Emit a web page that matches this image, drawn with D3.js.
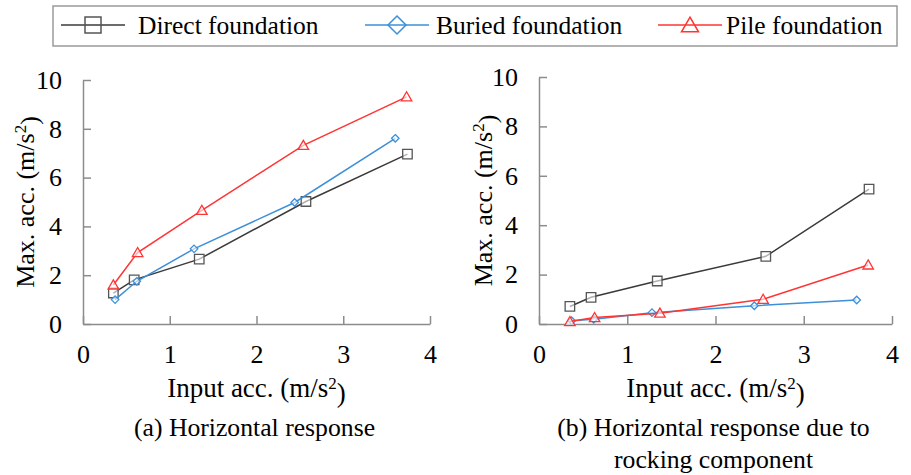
<!DOCTYPE html>
<html>
<head>
<meta charset="utf-8">
<script src="https://cdn.jsdelivr.net/npm/d3@7"></script>
<style>
  html, body { margin: 0; padding: 0; background: #fff; }
  svg { display: block; font-family: "Liberation Serif", "Times New Roman", serif; }
</style>
</head>
<body>
<svg id="chart" width="911" height="475"></svg>
<script>
// Series names and styling keys
const seriesNames = ["Direct foundation", "Buried foundation", "Pile foundation"];
const seriesKeys = ["direct", "buried", "pile"];

// Input accelerations (m/s^2) for each foundation type
const inputDirect = [0.35, 0.59, 1.34, 2.57, 3.74];
const inputBuried = [0.37, 0.62, 1.28, 2.44, 3.60];
const inputPile   = [0.35, 0.63, 1.37, 2.54, 3.73];

// (a) Horizontal response: max acceleration (m/s^2)
const horizDirect = [1.27, 1.81, 2.66, 5.02, 6.96];
const horizBuried = [1.00, 1.75, 3.08, 4.98, 7.61];
const horizPile   = [1.60, 2.93, 4.66, 7.32, 9.31];

// (b) Horizontal response due to rocking component (m/s^2)
const rockDirect = [0.71, 1.08, 1.74, 2.74, 5.46];
const rockBuried = [0.13, 0.19, 0.46, 0.74, 0.97];
const rockPile   = [0.10, 0.26, 0.44, 1.00, 2.39];

const xTicks = [0, 1, 2, 3, 4];
const yTicks = [0, 2, 4, 6, 8, 10];

const colors = { direct: "#3a3a3a", buried: "#3d8fd8", pile: "#ff3434" };
const markerStroke = { direct: "#555555", buried: "#3d8fd8", pile: "#ff3434" };

const svg = d3.select("#chart");

function markerPath(key, size) {
  const s = size / 2;
  if (key === "direct") return `M${-s},${-s}H${s}V${s}H${-s}Z`;
  if (key === "buried") return `M0,${-s}L${s},0L0,${s}L${-s},0Z`;
  // triangle
  const h = size * 0.85;
  return `M0,${-h / 2 - 1}L${s + 0.5},${h / 2}L${-s - 0.5},${h / 2}Z`;
}

function drawPanel(opts) {
  const { x0, x1, y0, y1, series, captionLines, titleX } = opts;
  const x = d3.scaleLinear().domain([0, 4]).range([x0, x1]);
  const y = d3.scaleLinear().domain([0, 10]).range([y0, y1]);
  const g = svg.append("g");

  const ax = g.append("g")
    .attr("transform", `translate(0,${y0})`)
    .call(d3.axisBottom(x).tickValues(xTicks).tickSize(-8).tickSizeOuter(0).tickPadding(21).tickFormat(d3.format("d")));
  const ay = g.append("g")
    .attr("transform", `translate(${x0},0)`)
    .call(d3.axisLeft(y).tickValues(yTicks).tickSize(-8).tickSizeOuter(0).tickPadding(21).tickFormat(d3.format("d")));
  [ax, ay].forEach(a => {
    a.selectAll("path.domain").attr("stroke", "#8c8c8c").attr("stroke-width", 1.5);
    a.selectAll(".tick line").attr("stroke", "#8c8c8c").attr("stroke-width", 1.5);
    a.selectAll(".tick text").attr("fill", "#000").style("font-size", "26px")
      .style("font-family", "'Liberation Serif', serif");
  });
  ax.selectAll(".tick text").attr("dy", "0.71em");

  // Lines and markers
  series.forEach(s => {
    const pts = s.xs.map((v, i) => [v, s.ys[i]]);
    g.append("path")
      .datum(pts)
      .attr("fill", "none")
      .attr("stroke", colors[s.key])
      .attr("stroke-width", 1.5)
      .attr("d", d3.line().x(d => x(d[0])).y(d => y(d[1])));
    g.selectAll(null)
      .data(pts)
      .join("path")
      .attr("transform", d => `translate(${x(d[0])},${y(d[1])})`)
      .attr("d", markerPath(s.key, s.key === "buried" ? 7.5 : 9.5))
      .attr("fill", "#fff")
      .attr("fill-opacity", 0.6)
      .attr("stroke", markerStroke[s.key])
      .attr("stroke-width", 1.3);
  });

  // Axis titles
  const yt = g.append("text")
    .attr("transform", `translate(${titleX},${(y0 + y1) / 2}) rotate(-90)`)
    .attr("text-anchor", "middle")
    .attr("dy", "0.35em")
    .style("font-size", "26px");
  yt.append("tspan").text("Max. acc. (m/s");
  yt.append("tspan").attr("dy", "-0.45em").style("font-size", "17px").text("2");
  yt.append("tspan").attr("dy", "0.45em").text(")");

  const xt = g.append("text")
    .attr("x", (x0 + x1) / 2)
    .attr("y", 397)
    .attr("text-anchor", "middle")
    .style("font-size", "27px");
  xt.append("tspan").text("Input acc. (m/s");
  xt.append("tspan").attr("dy", "-0.45em").style("font-size", "17px").text("2");
  xt.append("tspan").attr("dy", "0.45em").text(")");

  captionLines.forEach((t, i) => {
    g.append("text")
      .attr("x", (x0 + x1) / 2 - 2)
      .attr("y", 436 + i * 32)
      .attr("text-anchor", "middle")
      .style("font-size", "25.7px")
      .text(t);
  });
}

drawPanel({
  x0: 83, x1: 430, y0: 324, y1: 80, titleX: 25,
  series: [
    { key: "direct", xs: inputDirect, ys: horizDirect },
    { key: "buried", xs: inputBuried, ys: horizBuried },
    { key: "pile", xs: inputPile, ys: horizPile }
  ],
  captionLines: ["(a) Horizontal response"]
});

drawPanel({
  x0: 539, x1: 892, y0: 324, y1: 77, titleX: 483,
  series: [
    { key: "direct", xs: inputDirect, ys: rockDirect },
    { key: "buried", xs: inputBuried, ys: rockBuried },
    { key: "pile", xs: inputPile, ys: rockPile }
  ],
  captionLines: ["(b) Horizontal response due to", "rocking component"]
});

// Legend
const legend = svg.append("g");
legend.append("rect")
  .attr("x", 53).attr("y", 6).attr("width", 844).attr("height", 40)
  .attr("fill", "#fff").attr("stroke", "#9a9a9a").attr("stroke-width", 1.5);
const legendX = [61, 365, 658];
const textX = [138, 436, 726];
seriesKeys.forEach((k, i) => {
  const lg = legend.append("g");
  lg.append("line")
    .attr("x1", legendX[i]).attr("x2", legendX[i] + 64)
    .attr("y1", 25).attr("y2", 25)
    .attr("stroke", colors[k]).attr("stroke-width", 1.5);
  lg.append("path")
    .attr("transform", `translate(${legendX[i] + 32},25)`)
    .attr("d", markerPath(k, k === "buried" ? 18 : 16))
    .attr("fill", "none")
    .attr("stroke", markerStroke[k])
    .attr("stroke-width", 1.5);
  lg.append("text")
    .attr("x", textX[i]).attr("y", 25).attr("dy", "0.35em")
    .style("font-size", "25.5px")
    .text(seriesNames[i]);
});
</script>
</body>
</html>
